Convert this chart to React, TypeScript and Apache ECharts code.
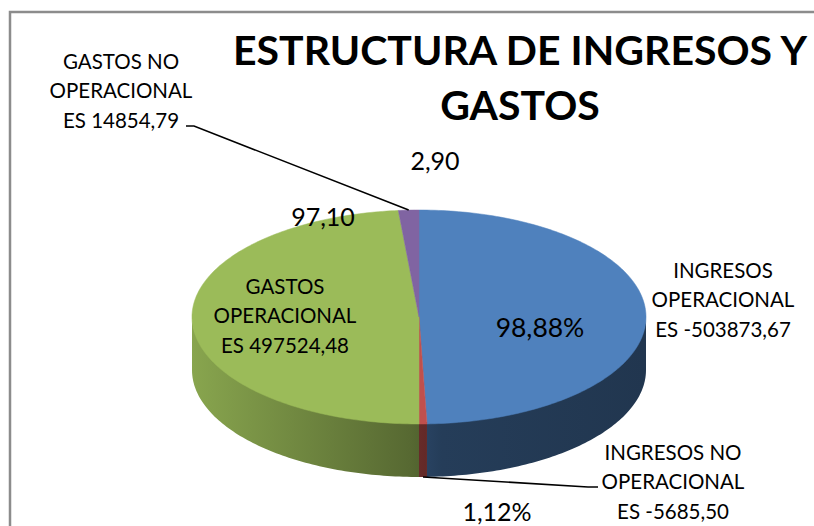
import React, { useEffect, useRef } from "react";
import * as echarts from "echarts";

// ---- data ----
const categories = [
  "INGRESOS OPERACIONAL",
  "INGRESOS NO OPERACIONAL",
  "GASTOS OPERACIONAL",
  "GASTOS NO OPERACIONAL",
];
const amounts = [-503873.67, -5685.5, 497524.48, 14854.79];
const shares = [98.88, 1.12, 97.1, 2.9];
const shareSuffix = ["%", "%", "", ""];
const titleLines = ["ESTRUCTURA DE INGRESOS Y", "GASTOS"];

// ---- style / layout ----
const colors = ["#4F81BD", "#C0504D", "#9BBB59", "#8064A2"];
const CX = 419, CY = 317, RX = 227, RY = 107, DEPTH = 53;
const nameLayout = [[723, 299], [673, 481], [285, 315], [121, 90]];
const valueLayout = [[540, 327], [497, 511], [323, 216], [435, 160]];
const valueSize = [26.5, 25, 25, 25];
const leaderLayout: (number[][] | null)[] = [
  null,
  [[588, 487], [598, 487]],
  null,
  [[194, 126], [186, 126]],
];
const FONT = "Lato";

const total = shares.reduce((a, b) => a + b, 0);
const cum: number[] = [];
shares.reduce((acc, v, i) => { cum[i] = acc; return acc + v; }, 0);

function shade(hex: string, f: number) {
  const n = parseInt(hex.slice(1), 16);
  const r = (n >> 16) & 255, g = (n >> 8) & 255, b = n & 255;
  return `rgb(${Math.round(r * f)},${Math.round(g * f)},${Math.round(b * f)})`;
}
function fmtAmount(v: number) {
  return "ES " + v.toFixed(2).replace(".", ",");
}
function fmtShare(v: number, i: number) {
  return v.toFixed(2).replace(".", ",") + shareSuffix[i];
}
function fmtName(s: string) {
  return s.replace(" OPERACIONAL", "\nOPERACIONAL");
}

export default function App() {
  const ref = useRef<HTMLDivElement>(null);
  useEffect(() => {
    if (!ref.current) return;
    const chart = echarts.init(ref.current, undefined, { renderer: "svg" });
    const pt = (a: number, dy = 0) => [CX + RX * Math.sin(a), CY - RY * Math.cos(a) + dy];
    const arc = (from: number, to: number, dy = 0) => {
      const n = Math.max(2, Math.ceil(Math.abs(to - from) / (Math.PI / 180)));
      const res: number[][] = [];
      for (let k = 0; k <= n; k++) res.push(pt(from + ((to - from) * k) / n, dy));
      return res;
    };
    const option: any = {
      animation: false,
      backgroundColor: "#ffffff",
      graphic: [
        {
          type: "rect",
          shape: { x: 10, y: 12, width: 900, height: 700 },
          style: { fill: "none", stroke: "#8c8c8c", lineWidth: 2.5 },
          silent: true,
          z: 0,
        },
        {
          type: "text",
          x: 520,
          y: 77,
          style: {
            text: titleLines.join("\n"),
            align: "center",
            verticalAlign: "middle",
            fontFamily: FONT,
            fontWeight: "bold",
            fontSize: 41,
            lineHeight: 55,
            fill: "#000",
          },
          z: 10,
        },
      ],
      series: [
        {
          type: "custom",
          coordinateSystem: "none",
          data: shares.map((v, i) => ({ name: categories[i], value: [v] })),
          renderItem: (params: any, api: any) => {
            const i = params.dataIndex;
            const v = api.value(0);
            const a0 = (cum[i] / total) * Math.PI * 2;
            const a1 = a0 + (v / total) * Math.PI * 2;
            const color = colors[i];
            const children: any[] = [];
            const s0 = Math.max(a0, Math.PI / 2);
            const s1 = Math.min(a1, (3 * Math.PI) / 2);
            if (s1 > s0) {
              children.push({
                type: "polygon",
                z2: 1,
                shape: { points: [...arc(s0, s1, -2), ...arc(s1, s0, DEPTH)] },
                style: {
                  fill: {
                    type: "linear",
                    x: CX - RX, y: 0, x2: CX + RX, y2: 0,
                    global: true,
                    colorStops: [
                      { offset: 0, color: shade(color, 0.88) },
                      { offset: 0.48, color: shade(color, 0.56) },
                      { offset: 0.55, color: shade(color, 0.47) },
                      { offset: 1, color: shade(color, 0.42) },
                    ],
                  },
                },
              });
            }
            children.push({
              type: "polygon",
              z2: 5,
              shape: { points: [[CX, CY], ...arc(a0, a1)] },
              style: { fill: color, stroke: color, lineWidth: 0.5 },
            });
            const mid = (a0 + a1) / 2;
            const lead = leaderLayout[i];
            if (lead) {
              const front = Math.cos(mid) < 0;
              const p = pt(mid, front ? DEPTH : 0);
              children.push({
                type: "polyline",
                z2: 8,
                shape: { points: [p, ...lead] },
                style: { stroke: "#000", lineWidth: 1.6, fill: "none" },
              });
            }
            children.push({
              type: "text",
              z2: 10,
              x: nameLayout[i][0],
              y: nameLayout[i][1],
              style: {
                text: fmtName(categories[i]) + "\n" + fmtAmount(amounts[i]),
                align: "center",
                verticalAlign: "middle",
                fontFamily: FONT,
                fontSize: 20.5,
                lineHeight: 29.5,
                fill: "#000",
              },
            });
            children.push({
              type: "text",
              z2: 10,
              x: valueLayout[i][0],
              y: valueLayout[i][1],
              style: {
                text: fmtShare(shares[i], i),
                align: "center",
                verticalAlign: "middle",
                fontFamily: FONT,
                fontSize: valueSize[i],
                fill: "#000",
              },
            });
            return { type: "group", children };
          },
        },
      ],
    };
    chart.setOption(option);
    return () => chart.dispose();
  }, []);
  return (
    <div
      ref={ref}
      style={{ position: "absolute", left: 0, top: 0, width: 814, height: 526 }}
    />
  );
}
